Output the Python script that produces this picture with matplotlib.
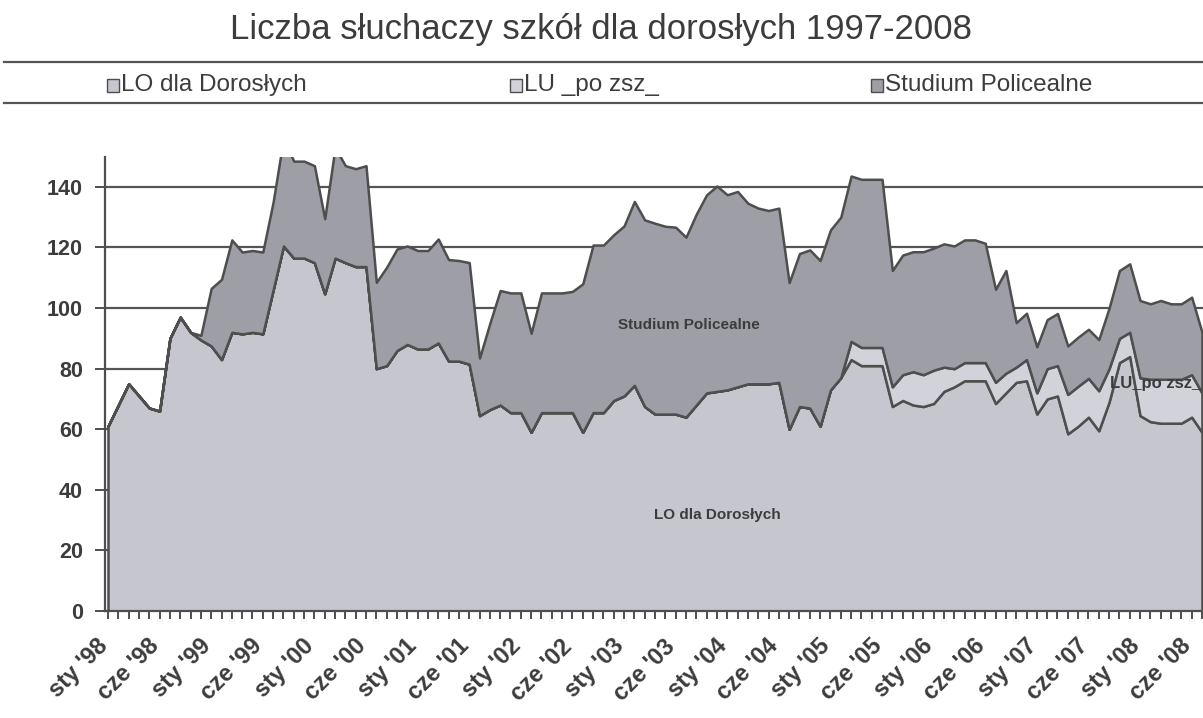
import matplotlib
matplotlib.use("Agg")
import matplotlib.pyplot as plt
from matplotlib.patches import Rectangle
from matplotlib.lines import Line2D
import matplotlib.transforms as mtransforms
import numpy as np

plt.rcParams['font.family'] = ['Liberation Sans', 'DejaVu Sans']

title = 'Liczba słuchaczy szkół dla dorosłych 1997-2008'
series_names = ['LO dla Dorosłych', 'LU _po zsz_', 'Studium Policealne']

# 10 points per school year (no July / August), Jan 1998 .. Jan 2009
lo = [61, 68, 75, 71, 67, 66, 90, 97, 92, 89.5,
      87.5, 83, 92, 91.5, 92, 91.5, 106, 120.5, 116.5, 116.5,
      115, 104.7, 116.5, 115, 113.7, 113.7, 80, 81, 86, 88,
      86.5, 86.5, 88.5, 82.5, 82.5, 81.5, 64.5, 66.5, 68, 65.5,
      65.5, 59, 65.5, 65.5, 65.5, 65.5, 59, 65.5, 65.5, 69.5,
      71, 74.5, 67.5, 65, 65, 65, 64, 68, 72, 72.5,
      73, 74, 75, 75, 75, 75.5, 60, 67.5, 67, 61,
      73, 77, 83, 81, 81, 81, 67.5, 69.5, 68, 67.5,
      68.5, 72.5, 74, 76, 76, 76, 68.5, 72, 75.5, 76,
      65, 70, 71, 58.5, 61, 64, 59.5, 69, 82, 84,
      64.5, 62.5, 62, 62, 62, 64, 59]

lu = [0] * 72 + [6, 6, 6, 6, 6.5, 8.5, 11, 10.5,
                 11, 8, 6, 6, 6, 6, 7, 6.5, 5, 7,
                 7, 10, 10, 13, 13.2, 12.8, 13.2, 11, 8, 8,
                 12.5, 14, 14.5, 14.5, 14.5, 14, 13]

sp = [0, 0, 0, 0, 0, 0, 0, 0, 0, 1.5,
      19, 26.5, 30.5, 27, 27, 27, 29, 35.5, 32, 32,
      32, 24.8, 36.5, 32, 32.3, 33.3, 28.5, 32.5, 33.5, 32.5,
      32.5, 32.5, 34.3, 33.5, 33.2, 33.5, 19, 28.5, 37.8, 39.5,
      39.5, 32.7, 39.5, 39.5, 39.5, 40, 49, 55.3, 55.3, 54.7,
      56.1, 60.7, 61.6, 63, 62, 61.7, 59.4, 63, 65.4, 67.8,
      64.4, 64.5, 59.6, 58, 57.2, 57.5, 48.4, 50.5, 52.2, 54.7,
      52.8, 53, 54.6, 55.5, 55.5, 55.5, 38.4, 39.5, 39.6, 40.6,
      40.3, 40.7, 40.5, 40.5, 40.5, 39.4, 30.7, 33.9, 14.7, 15.3,
      15.2, 16.2, 17.2, 16, 16.2, 16.2, 16.9, 20, 22.4, 22.6,
      25.5, 24.9, 26, 24.9, 24.9, 25.6, 20]

tick_labels = ["sty '98", "cze '98", "sty '99", "cze '99", "sty '00", "cze '00",
               "sty '01", "cze '01", "sty '02", "cze '02", "sty '03", "cze '03",
               "sty '04", "cze '04", "sty '05", "cze '05", "sty '06", "cze '06",
               "sty '07", "cze '07", "sty '08", "cze '08"]

dark = '#3c3c3c'
edge = '#4e4e4e'
colors = ['#c6c6ce', '#d2d2da', '#9e9ea6']

fig = plt.figure(figsize=(12.03, 7.18), dpi=100)
ax = fig.add_axes([105 / 1203, 1 - 611 / 718, 1098 / 1203, (611 - 156.6) / 718])

x = np.arange(len(lo))
ax.stackplot(x, lo, lu, sp, colors=colors, edgecolor=edge, linewidth=1.8, zorder=2)

ax.set_xlim(-0.29, 106.1)
ax.set_ylim(0, 150)
ax.set_yticks(range(0, 141, 20))
ax.yaxis.grid(True, color='#555555', linewidth=1.6, zorder=0)
ax.set_axisbelow(True)
for s in ['top', 'right']:
    ax.spines[s].set_visible(False)
for s in ['left', 'bottom']:
    ax.spines[s].set_color(edge)
    ax.spines[s].set_linewidth(1.6)
ax.spines['bottom'].set_zorder(5)

ax.set_xticks(x, minor=True)
ax.set_xticks(x[::5][:len(tick_labels)])
ax.set_xticklabels(tick_labels, rotation=45, ha='right', va='top',
                   rotation_mode='anchor', fontsize=17, fontweight='bold', color=dark)
ax.tick_params(axis='x', which='both', length=6, width=1.4, color=edge, pad=11)
ax.tick_params(axis='y', length=7, width=1.4, color=edge, pad=9,
               labelsize=15.5, labelcolor=dark)
for lab in ax.get_yticklabels():
    lab.set_fontweight('bold')
offset = mtransforms.ScaledTranslation(-0.12, 0, fig.dpi_scale_trans)
for lab in ax.get_xticklabels():
    lab.set_transform(lab.get_transform() + offset)

# labels inside the areas
ax.text(56.3, 94.5, 'Studium Policealne', ha='center', va='center',
        fontsize=11, fontweight='bold', color=dark, zorder=4)
ax.text(59, 31.7, 'LO dla Dorosłych', ha='center', va='center',
        fontsize=11, fontweight='bold', color=dark, zorder=4)
ax.text(101.5, 75, 'LU_po zsz_', ha='center', va='center',
        fontsize=12, fontweight='bold', color=dark, zorder=4)

fig.text(0.5, 1 - 30 / 718, title, ha='center', va='center', fontsize=25, color=dark)

# legend strip
for yy in [61.5, 102.5]:
    fig.add_artist(Line2D([4 / 1203, 1], [1 - yy / 718] * 2, color='#555555',
                          linewidth=1.6, transform=fig.transFigure))
legend_x = [107, 510, 871]
for name, col, lx in zip(series_names, colors, legend_x):
    fig.add_artist(Rectangle((lx / 1203, 1 - 92 / 718), 12 / 1203, 13 / 718,
                             facecolor=col, edgecolor=edge, linewidth=1,
                             transform=fig.transFigure))
    fig.text((lx + 14) / 1203, 1 - 85 / 718, name, ha='left', va='center',
             fontsize=17.5, color=dark)

fig.savefig('out.png', dpi=100)
